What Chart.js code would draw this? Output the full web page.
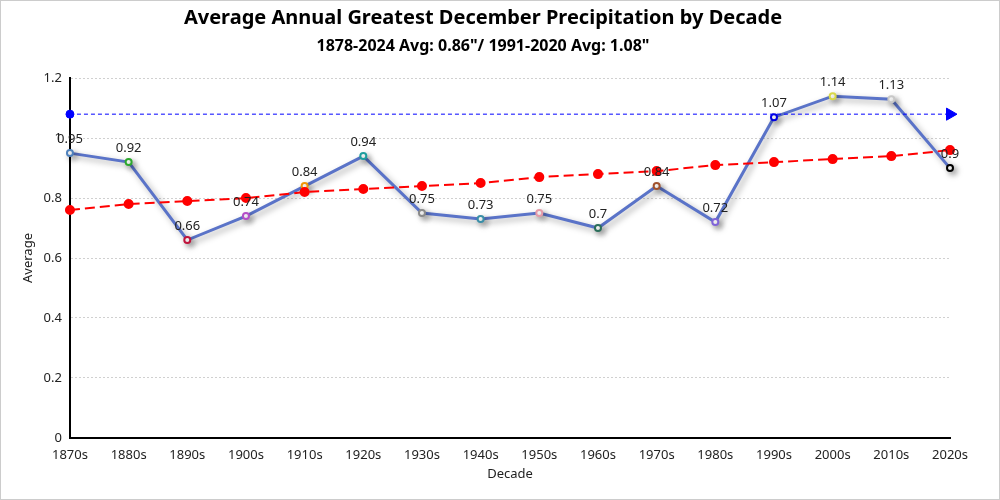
<!DOCTYPE html>
<html>
<head>
<meta charset="utf-8">
<script src="https://cdn.jsdelivr.net/npm/chart.js@4.4.1/dist/chart.umd.min.js"></script>
<style>
  html, body { margin: 0; padding: 0; background: #fff; }
  #wrap { width: 998px; height: 498px; border: 1px solid #ccc; }
</style>
</head>
<body>
<div id="wrap"><canvas id="chart" width="998" height="498"></canvas></div>
<script>
const decades = ["1870s", "1880s", "1890s", "1900s", "1910s", "1920s", "1930s", "1940s",
  "1950s", "1960s", "1970s", "1980s", "1990s", "2000s", "2010s", "2020s"];
const averages = [0.95, 0.92, 0.66, 0.74, 0.84, 0.94, 0.75, 0.73, 0.75, 0.70, 0.84, 0.72, 1.07, 1.14, 1.13, 0.90];
const trend = [0.76, 0.78, 0.79, 0.80, 0.82, 0.83, 0.84, 0.85, 0.87, 0.88, 0.89, 0.91, 0.92, 0.93, 0.94, 0.96];
const normal = decades.map(() => 1.08); // 1991-2020 avg
const markerColors = ["#4f81bc", "#2ea82e", "#c0143c", "#b44fc8", "#f0960a", "#1e9e9e", "#8a8a8a", "#3a8fa8",
  "#e59aa8", "#2a6e5a", "#a0522d", "#8064d8", "#0000e0", "#d8d84a", "#c8c8c8", "#000000"];

const FONT = "'Noto Sans', 'Open Sans', sans-serif";

// shadow under the main line
const shadowPlugin = {
  id: 'shadow',
  beforeDatasetDraw(chart, args) {
    if (args.index !== 0) return;
    const ctx = chart.ctx;
    ctx.save();
    ctx.shadowColor = 'rgba(0,0,0,0.35)';
    ctx.shadowBlur = 6;
    ctx.shadowOffsetX = 3;
    ctx.shadowOffsetY = 3;
  },
  afterDatasetDraw(chart, args) {
    if (args.index !== 0) return;
    chart.ctx.restore();
  }
};

// value labels above the main series
const labelPlugin = {
  id: 'valueLabels',
  afterDatasetsDraw(chart) {
    const ctx = chart.ctx;
    const meta = chart.getDatasetMeta(0);
    ctx.save();
    ctx.font = "13px " + FONT;
    ctx.fillStyle = '#222';
    ctx.textAlign = 'center';
    ctx.textBaseline = 'bottom';
    meta.data.forEach((pt, i) => {
      ctx.fillText(String(averages[i]), pt.x, pt.y - 7);
    });
    ctx.restore();
  }
};

new Chart(document.getElementById('chart'), {
  type: 'line',
  plugins: [shadowPlugin, labelPlugin],
  data: {
    labels: decades,
    datasets: [
      {
        label: 'Average',
        data: averages,
        borderColor: '#5a73c8',
        borderWidth: 3,
        tension: 0,
        pointRadius: 3,
        pointBorderWidth: 2,
        pointBackgroundColor: '#fff',
        pointBorderColor: markerColors,
        clip: false,
        order: 3
      },
      {
        label: 'Trend',
        data: trend,
        borderColor: '#ff0000',
        borderWidth: 2,
        borderDash: [10, 5],
        pointRadius: 4,
        pointBackgroundColor: '#ff0000',
        pointBorderColor: '#ff0000',
        clip: false,
        order: 2
      },
      {
        label: '1991-2020 Avg',
        data: normal,
        borderColor: '#0000ff',
        borderWidth: 1,
        borderDash: [4, 3],
        pointRadius: decades.map((d, i) => i === 0 ? 4 : (i === decades.length - 1 ? 7 : 0)),
        pointStyle: decades.map((d, i) => i === decades.length - 1 ? 'triangle' : 'circle'),
        rotation: decades.map((d, i) => i === decades.length - 1 ? 90 : 0),
        pointBackgroundColor: '#0000ff',
        pointBorderColor: '#0000ff',
        clip: false,
        order: 1
      }
    ]
  },
  options: {
    responsive: false,
    animation: false,
    layout: { padding: { left: 15, right: 49, top: 0, bottom: 13 } },
    plugins: {
      legend: { display: false },
      tooltip: { enabled: false },
      title: {
        display: true,
        text: 'Average Annual Greatest December Precipitation by Decade',
        color: '#000',
        font: { family: FONT, size: 20, weight: 'bold' },
        padding: { top: 5, bottom: 4 }
      },
      subtitle: {
        display: true,
        text: '1878-2024 Avg: 0.86"/ 1991-2020 Avg: 1.08"',
        color: '#000',
        font: { family: FONT, size: 16, weight: 'bold' },
        padding: { top: 3, bottom: 22 }
      }
    },
    scales: {
      x: {
        offset: false,
        grid: { display: false },
        border: { display: true, color: '#000', width: 2 },
        ticks: { color: '#222', font: { family: FONT, size: 13 }, maxRotation: 0, autoSkip: false, padding: 2 },
        title: { display: true, text: 'Decade', color: '#222', font: { family: FONT, size: 13 }, padding: { top: 1, bottom: 4 } }
      },
      y: {
        min: 0,
        max: 1.2,
        grid: { color: '#d0d0d0', drawTicks: false },
        border: { display: true, color: '#000', width: 2, dash: [2, 2] },
        ticks: { stepSize: 0.2, color: '#222', font: { family: FONT, size: 13 }, padding: 8,
          callback: v => String(Math.round(v * 10) / 10) },
        title: { display: true, text: 'Average', color: '#222', font: { family: FONT, size: 13 }, padding: { top: 4, bottom: 0 } }
      }
    }
  }
});
</script>
</body>
</html>
